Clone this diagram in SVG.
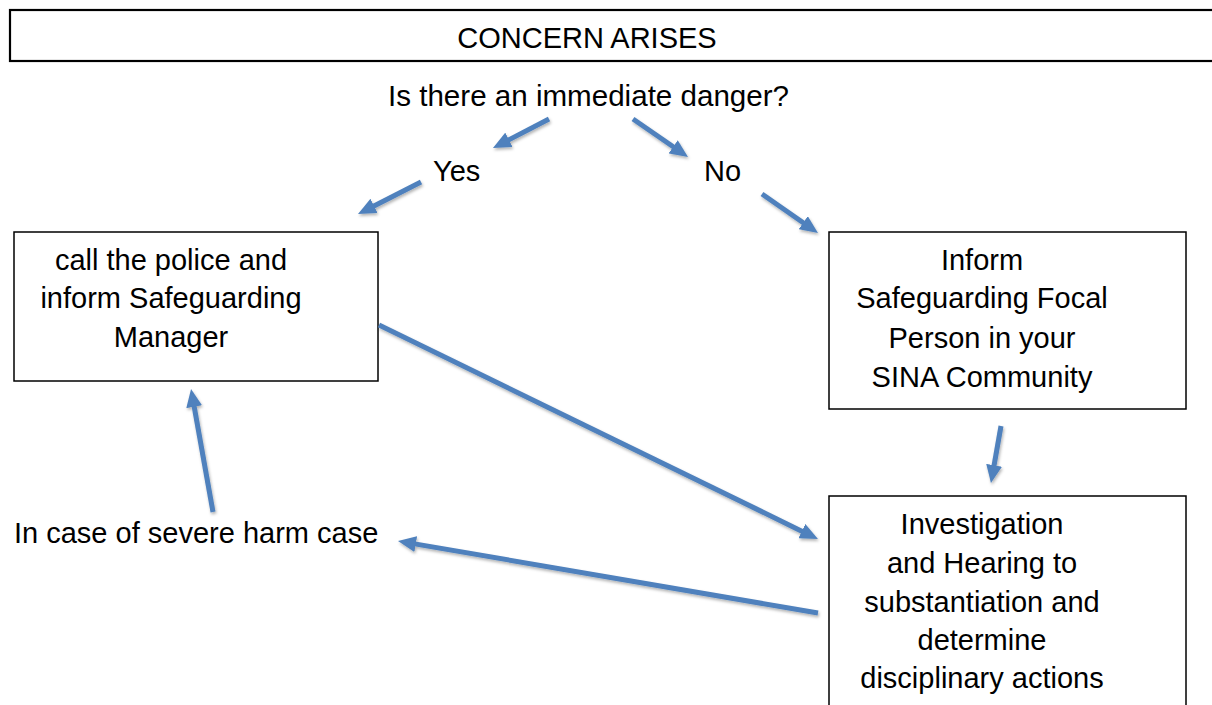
<svg xmlns="http://www.w3.org/2000/svg" width="1212" height="705" viewBox="0 0 1212 705">
<style>
.t{font-family:"Liberation Sans",Arial,sans-serif;font-size:29px;fill:#000}
.box{fill:#fff;stroke:#000;stroke-width:1.5}
.c{stroke:#4F81BD;stroke-width:5;fill:none;marker-end:url(#ah)}
</style>
<defs>
<marker id="ah" markerUnits="userSpaceOnUse" markerWidth="18" markerHeight="16" refX="4" refY="8" orient="auto">
<path d="M0,0 L18,8 L0,16 Z" fill="#4F81BD"/>
</marker>
<filter id="sh" x="-20%" y="-20%" width="140%" height="140%">
<feDropShadow dx="1" dy="2" stdDeviation="1.5" flood-color="#000" flood-opacity="0.3"/>
</filter>
</defs>
<rect width="1212" height="705" fill="#fff"/>
<g id="concern">
<rect x="10" y="10" width="1210" height="51" fill="#fff" stroke="#000" stroke-width="2.2"/>
<text class="t" x="587" y="48" text-anchor="middle">CONCERN ARISES</text>
</g>
<g id="question">
<text class="t" x="388" y="106" textLength="401" lengthAdjust="spacingAndGlyphs">Is there an immediate danger?</text>
</g>
<g id="yes"><text class="t" x="433" y="181">Yes</text></g>
<g id="no"><text class="t" x="704" y="181">No</text></g>
<g id="police">
<rect class="box" x="14" y="232" width="364" height="149"/>
<text class="t" text-anchor="middle" x="171" y="270">call the police and</text>
<text class="t" text-anchor="middle" x="171" y="308">inform Safeguarding</text>
<text class="t" text-anchor="middle" x="171" y="347">Manager</text>
</g>
<g id="inform">
<rect class="box" x="829" y="232" width="357" height="177"/>
<text class="t" text-anchor="middle" x="982" y="270">Inform</text>
<text class="t" text-anchor="middle" x="982" y="308">Safeguarding Focal</text>
<text class="t" text-anchor="middle" x="982" y="348">Person in your</text>
<text class="t" text-anchor="middle" x="982" y="387">SINA Community</text>
</g>
<g id="investigation">
<rect class="box" x="829" y="496" width="357" height="220"/>
<text class="t" text-anchor="middle" x="982" y="534">Investigation</text>
<text class="t" text-anchor="middle" x="982" y="573">and Hearing to</text>
<text class="t" text-anchor="middle" x="982" y="612">substantiation and</text>
<text class="t" text-anchor="middle" x="982" y="650">determine</text>
<text class="t" text-anchor="middle" x="982" y="688">disciplinary actions</text>
</g>
<g id="severe">
<text class="t" x="14" y="543">In case of severe harm case</text>
</g>
<g id="connectors" filter="url(#sh)">
<line class="c" x1="549" y1="119" x2="505.4" y2="141.6"/>
<line class="c" x1="633" y1="119" x2="676.5" y2="149"/>
<line class="c" x1="421" y1="182" x2="370.5" y2="207.7"/>
<line class="c" x1="762" y1="194" x2="806.5" y2="225"/>
<line class="c" x1="379" y1="325" x2="805.4" y2="532.9"/>
<line class="c" x1="1001" y1="426" x2="993.4" y2="469.2"/>
<line class="c" x1="818" y1="613" x2="411.8" y2="543.4"/>
<line class="c" x1="213" y1="512" x2="193.5" y2="402.8"/>
</g>
</svg>
